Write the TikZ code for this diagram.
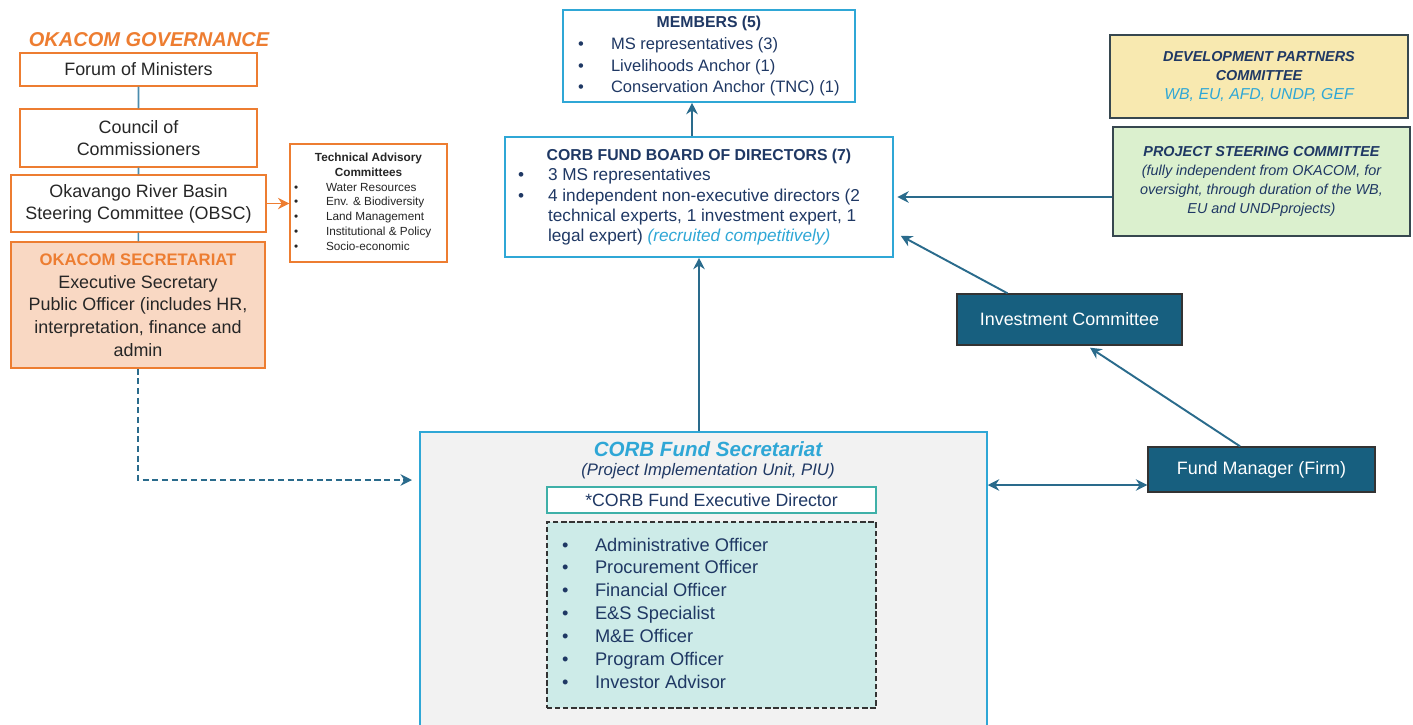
\documentclass[tikz,border=0pt]{standalone}
\usepackage{fontspec}
\setmainfont{Liberation Sans}
\usepackage{array}
\usetikzlibrary{arrows.meta}
\definecolor{okaorange}{HTML}{ED7D31}
\definecolor{okafill}{HTML}{F9D8C3}
\definecolor{linkblue}{HTML}{2A6B8C}
\definecolor{govblue}{HTML}{4A8CAE}
\definecolor{corbblue}{HTML}{2FA7D6}
\definecolor{navy}{HTML}{1F3864}
\definecolor{dpyellow}{HTML}{F8E9B0}
\definecolor{pscgreen}{HTML}{DBF0CE}
\definecolor{edgegray}{HTML}{37474F}
\definecolor{darkteal}{HTML}{175F7F}
\definecolor{secgray}{HTML}{F2F2F2}
\definecolor{edteal}{HTML}{3FB0A8}
\definecolor{stafffill}{HTML}{CDEBE8}
\definecolor{textgray}{HTML}{262626}
\newcommand{\fs}[2]{\fontsize{#1}{#2}\selectfont}
\newcommand{\blist}[2]{\begin{tabular}{@{}p{#1}@{}>{\raggedright\arraybackslash}p{#2}@{}}}
\begin{document}
\begin{tikzpicture}[>={Stealth[length=6.5pt,width=6.5pt]},x=0.02cm,y=-0.02cm,
	govbox/.style={draw=okaorange,line width=0.7pt,fill=white,align=center,text=textgray,font=\fs{10.2}{12.6},inner sep=2pt},
	corbbox/.style={draw=corbblue,line width=0.9pt,fill=white,text=navy,inner sep=0pt},
	partnerbox/.style={draw=edgegray,line width=1pt,align=center,text=navy},
	darkbox/.style={draw=black!80,fill=darkteal,text=white,font=\fs{10.2}{12},line width=0.8pt},
	link/.style={draw=linkblue,line width=1.1pt},
	govlink/.style={draw=govblue,line width=0.9pt}]
	\useasboundingbox (0,0) rectangle (1413,724);
	\node[text=okaorange,font=\bfseries\itshape\fs{11.4}{13}] (govtitle) at (149,40) {OKACOM GOVERNANCE};
	\node[govbox,minimum width=4.74cm,minimum height=0.66cm] (fom) at (138.5,69.5) {Forum of Ministers};
	\node[govbox,minimum width=4.74cm,minimum height=1.16cm] (coc) at (138.5,138) {Council of\\Commissioners};
	\node[govbox,minimum width=5.1cm,minimum height=1.14cm] (obsc) at (138.5,203.5) {Okavango River Basin\\Steering Committee (OBSC)};
	\node[govbox,fill=okafill,minimum width=5.08cm,minimum height=2.52cm,font=\fs{10.2}{12.9}] (oksec) at (138,305) {{\color{okaorange}\bfseries\fs{9.5}{12.9}OKACOM SECRETARIAT}\\Executive Secretary\\Public Officer (includes HR,\\interpretation, finance and\\admin};
	\node[govbox,minimum width=3.14cm,minimum height=2.36cm,inner sep=0pt,text=black!85,font=\fs{6.7}{8.5}] (tac) at (368.5,203) {\blist{0.64cm}{2.34cm}
		\multicolumn{2}{@{}c@{}}{\bfseries Technical Advisory}\\
		\multicolumn{2}{@{}c@{}}{\bfseries Committees}\\
		\textbullet & Water Resources\\
		\textbullet & Env. \& Biodiversity\\
		\textbullet & Land Management\\
		\textbullet & Institutional \& Policy\\
		\textbullet & Socio-economic
	\end{tabular}};
	\node[corbbox,minimum width=5.84cm,minimum height=1.84cm,font=\fs{9.4}{12.3}] (members) at (709,56) {\blist{0.66cm}{4.58cm}
		\multicolumn{2}{@{}c@{}}{\bfseries\fs{9}{12.3}MEMBERS (5)}\\
		\textbullet & MS representatives (3)\\
		\textbullet & Livelihoods Anchor (1)\\
		\textbullet & Conservation Anchor (TNC) (1)
	\end{tabular}};
	\node[corbbox,minimum width=7.76cm,minimum height=2.4cm,font=\fs{9.8}{11.6}] (board) at (699,197) {\blist{0.6cm}{6.64cm}
		\multicolumn{2}{@{}c@{}}{\bfseries\fs{9}{11.6}CORB FUND BOARD OF DIRECTORS (7)}\\
		\textbullet & 3 MS representatives\\
		\textbullet & 4 independent non-executive directors (2\\
		& technical experts, 1 investment expert, 1\\
		& legal expert) {\itshape\color{corbblue}(recruited competitively)}
	\end{tabular}};
	\node[partnerbox,fill=dpyellow,minimum width=5.96cm,minimum height=1.66cm,font=\bfseries\itshape\fs{8.2}{11}] (devp) at (1259,76.5) {DEVELOPMENT PARTNERS\\COMMITTEE\\{\mdseries\color{corbblue}\fs{9}{11}WB, EU, AFD, UNDP, GEF}};
	\node[partnerbox,fill=pscgreen,minimum width=5.94cm,minimum height=2.18cm,font=\itshape\fs{8.2}{10.8}] (psc) at (1261.5,181.5) {{\bfseries PROJECT STEERING COMMITTEE}\\(fully independent from OKACOM, for\\oversight, through duration of the WB,\\EU and UNDPprojects)};
	\node[darkbox,minimum width=4.5cm,minimum height=1.02cm] (invc) at (1069.5,319.5) {Investment Committee};
	\node[darkbox,minimum width=4.54cm,minimum height=0.9cm] (fundm) at (1261.5,469.5) {Fund Manager (Firm)};
	\node[draw=corbblue,line width=0.9pt,fill=secgray,minimum width=11.34cm,minimum height=5.96cm] (sec) at (703.5,581) {};
	\node[text=corbblue,font=\bfseries\itshape\fs{11.7}{14}] (sectitle) at (708,449) {CORB Fund Secretariat};
	\node[text=navy,font=\itshape\fs{9.5}{11}] (secsub) at (708,471) {(Project Implementation Unit, PIU)};
	\node[draw=edteal,line width=1pt,fill=white,minimum width=6.58cm,minimum height=0.52cm,text=navy,font=\fs{10.1}{12}] (exdir) at (711.5,500) {*CORB Fund Executive Director};
	\node[draw=black!80,dash pattern=on 3pt off 1.6pt,line width=0.9pt,fill=stafffill,minimum width=6.58cm,minimum height=3.72cm,inner sep=0pt,text=navy,font=\fs{10.4}{13}] (staff) at (711.5,615) {\blist{0.66cm}{5.32cm}
		\textbullet & Administrative Officer\\
		\textbullet & Procurement Officer\\
		\textbullet & Financial Officer\\
		\textbullet & E\&S Specialist\\
		\textbullet & M\&E Officer\\
		\textbullet & Program Officer\\
		\textbullet & Investor Advisor
	\end{tabular}};
	\draw[govlink] (fom) -- (coc) (coc) -- (obsc) (obsc) -- (oksec);
	\draw[->,draw=okaorange,line width=1pt] (obsc.east) -- (obsc.east -| tac.west);
	\coordinate (dashend) at (412,480);
	\draw[link,->,dash pattern=on 3.5pt off 2pt] (oksec.south) |- (dashend);
	\draw[link,->] ([xshift=-0.14cm]board.north) -- ([xshift=-0.14cm]board.north |- members.south);
	\draw[link,->] (sec.north -| board.south) -- (board.south);
	\draw[link,->] (psc.west |- board.east) -- ([xshift=2pt]board.east);
	\draw[link,->] ([xshift=-1.24cm]invc.north) -- ([xshift=0.14cm,yshift=0.44cm]board.south east);
	\draw[link,->] ([xshift=-0.43cm]fundm.north) -- ([xshift=0.41cm,yshift=-0.04cm]invc.south);
	\draw[link,<->] ([yshift=-0.31cm]fundm.west) -- ([yshift=-0.31cm]fundm.west -| sec.east);
\end{tikzpicture}
\end{document}
